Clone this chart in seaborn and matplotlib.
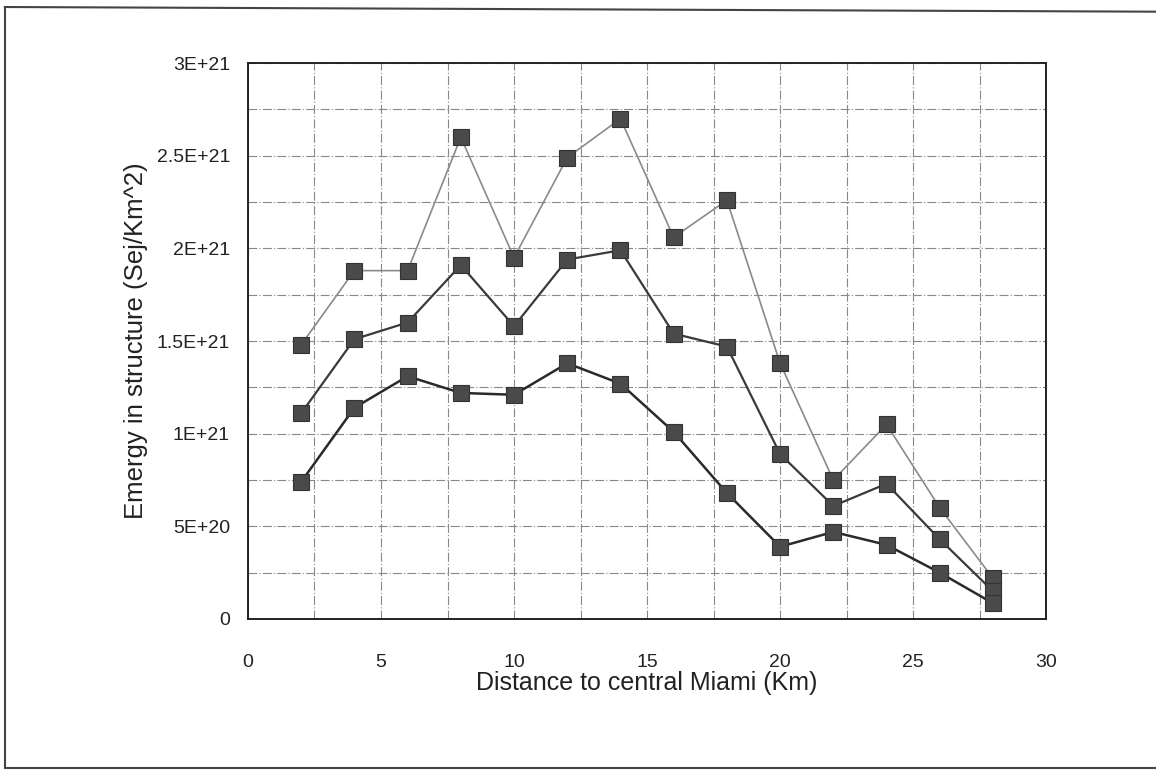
import matplotlib
matplotlib.use("Agg")
import matplotlib.pyplot as plt
from matplotlib.lines import Line2D
from matplotlib.ticker import MultipleLocator, FuncFormatter
import seaborn as sns
import numpy as np

# Distance from central Miami (km)
distance_km = [2, 4, 6, 8, 10, 12, 14, 16, 18, 20, 22, 24, 26, 28]

# Emergy stored in structure (sej/km^2), three estimates
emergy_high = [1.48e21, 1.88e21, 1.88e21, 2.60e21, 1.95e21, 2.49e21, 2.70e21,
               2.06e21, 2.26e21, 1.38e21, 0.75e21, 1.05e21, 0.60e21, 0.22e21]
emergy_mid = [1.11e21, 1.51e21, 1.60e21, 1.91e21, 1.58e21, 1.94e21, 1.99e21,
              1.54e21, 1.47e21, 0.89e21, 0.61e21, 0.73e21, 0.43e21, 0.15e21]
emergy_low = [0.74e21, 1.14e21, 1.31e21, 1.22e21, 1.21e21, 1.38e21, 1.27e21,
              1.01e21, 0.68e21, 0.39e21, 0.47e21, 0.40e21, 0.25e21, 0.085e21]

sns.set_theme(style="white")
plt.rcParams["font.family"] = ["Liberation Sans", "DejaVu Sans"]

fig = plt.figure(figsize=(11.56, 7.79), dpi=100)
fig.patch.set_facecolor("white")
ax = fig.add_axes([0.2145, 0.2054, 0.6905, 0.7136])

marker_color = "#4a4a4a"
series = [
    (emergy_high, "#8a8a8a", 1.2),
    (emergy_mid, "#3a3a3a", 1.6),
    (emergy_low, "#2a2a2a", 1.8),
]
for values, line_color, lw in series:
    sns.lineplot(x=distance_km, y=values, ax=ax, color=line_color, linewidth=lw,
                 marker="s", markersize=12, markerfacecolor=marker_color,
                 markeredgecolor="#333333", markeredgewidth=0.8, zorder=3)

ax.set_xlim(0, 30)
ax.set_ylim(0, 3e21)
ax.xaxis.set_major_locator(MultipleLocator(5))
ax.xaxis.set_minor_locator(MultipleLocator(2.5))
ax.yaxis.set_major_locator(MultipleLocator(5e20))
ax.yaxis.set_minor_locator(MultipleLocator(2.5e20))


def sci_fmt(v, pos):
    if v == 0:
        return "0"
    exp = int(np.floor(np.log10(abs(v)) + 1e-9))
    mant = v / 10 ** exp
    mant_s = ("%.1f" % mant).rstrip("0").rstrip(".")
    return "%sE+%d" % (mant_s, exp)


ax.yaxis.set_major_formatter(FuncFormatter(sci_fmt))

ax.grid(which="both", color="#888888", linestyle=(0, (8, 2, 1, 2)), linewidth=0.8)
ax.set_axisbelow(True)
for side in ["left", "bottom", "right", "top"]:
    ax.spines[side].set_visible(True)
    ax.spines[side].set_color("#222222")
    ax.spines[side].set_linewidth(1.4)

ax.tick_params(axis="both", which="major", direction="out", length=5, width=1,
               color="#222222", labelsize=14, labelcolor="#222222", pad=8)
ax.tick_params(axis="both", which="minor", length=0)
ax.tick_params(axis="x", pad=20)

ax.set_xlabel("Distance to central Miami (Km)", fontsize=18, color="#222222", labelpad=0)
ax.set_ylabel("Emergy in structure (Sej/Km^2)", fontsize=18.5, color="#222222", labelpad=6)

# Outer frame around the chart
frame_kw = dict(color="#444444", linewidth=1.5, transform=fig.transFigure)
fig.add_artist(Line2D([0.004, 1.0], [0.991, 0.985], **frame_kw))
fig.add_artist(Line2D([0.004, 0.004], [0.991, 0.014], **frame_kw))
fig.add_artist(Line2D([0.004, 1.0], [0.014, 0.014], **frame_kw))

fig.savefig("out.png", dpi=100, facecolor="white")
